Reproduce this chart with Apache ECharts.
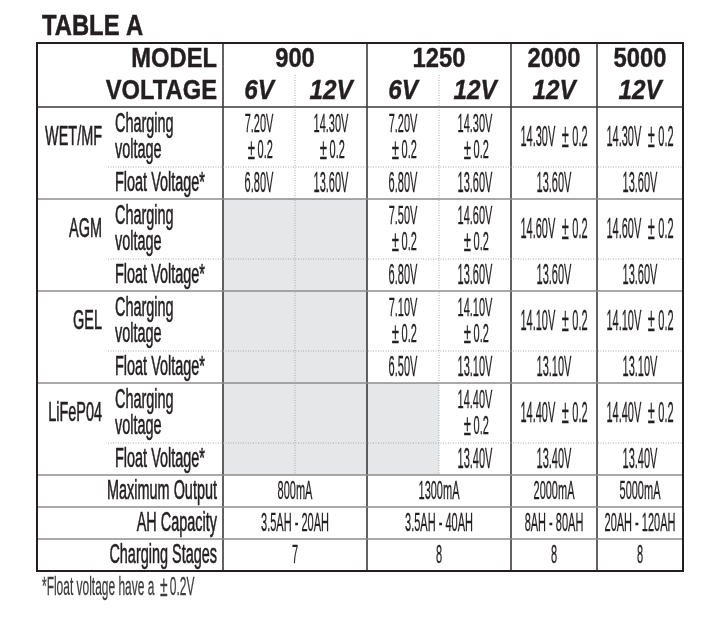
<!DOCTYPE html>
<html lang="en">
<head>
    <meta charset="UTF-8">
    <title>Table A</title>
    <script src="https://cdn.jsdelivr.net/npm/echarts@6.0.0/dist/echarts.min.js"></script>
    <style>
        html, body { margin: 0; padding: 0; background: #fff; }
    </style>
</head>
<body>
<div id="main" style="width: 717px; height: 629px;"></div>
<script>
  // table content
  var models = ['900', '1250', '2000', '5000'];
  var voltages = ['6V', '12V', '6V', '12V', '12V', '12V'];
  var batteryTypes = ['WET/MF', 'AGM', 'GEL', 'LiFeP04'];
  var rowLabels = ['Charging\nvoltage', 'Float Voltage*'];
  var tolerance = '0.2';
  // '' = not offered (grey cell)
  var chargingVoltage = [
    ['7.20V', '14.30V', '7.20V', '14.30V', '14.30V', '14.30V'],
    ['', '', '7.50V', '14.60V', '14.60V', '14.60V'],
    ['', '', '7.10V', '14.10V', '14.10V', '14.10V'],
    ['', '', '', '14.40V', '14.40V', '14.40V']
  ];
  var floatVoltage = [
    ['6.80V', '13.60V', '6.80V', '13.60V', '13.60V', '13.60V'],
    ['', '', '6.80V', '13.60V', '13.60V', '13.60V'],
    ['', '', '6.50V', '13.10V', '13.10V', '13.10V'],
    ['', '', '', '13.40V', '13.40V', '13.40V']
  ];
  var footerLabels = ['Maximum Output', 'AH Capacity', 'Charging Stages'];
  var maxOutput = ['800mA', '1300mA', '2000mA', '5000mA'];
  var ahCapacity = ['3.5AH - 20AH', '3.5AH - 40AH', '8AH - 80AH', '20AH - 120AH'];
  var chargingStages = ['7', '8', '8', '8'];

  // layout (axis units)
  var colWidths = [71, 115, 72, 72, 72, 72, 86, 86];
  var rowHeights = [32, 32, 60, 32, 60, 32, 60, 32, 60, 32, 32, 32, 32];
  var modelSpans = [[2, 4], [4, 6], [6, 7], [7, 8]];

  function edges(sizes) {
    var out = [0];
    for (var i = 0; i < sizes.length; i++) out.push(out[i] + sizes[i]);
    return out;
  }
  var colEdges = edges(colWidths);
  var rowEdges = edges(rowHeights);

  var ink = '#231f20';
  var family = '"Liberation Sans", Arial, sans-serif';
  var kinds = {
    head: {size: 27, weight: 'bold', style: 'normal', sx: 0.88, stroke: 0.4, pad: 6},
    volt: {size: 27, weight: 'bold', style: 'italic', sx: 0.9, stroke: 0.4, pad: 6},
    label: {size: 27, weight: 'normal', style: 'normal', sx: 0.535, stroke: 0.6, pad: 6},
    value: {size: 29, weight: 'normal', style: 'normal', sx: 0.38, stroke: 0.3, pad: 9},
    value2: {size: 25, weight: 'normal', style: 'normal', sx: 0.44, stroke: 0.3, pad: 6},
    foot: {size: 25, weight: 'normal', style: 'normal', sx: 0.44, stroke: 0.3, pad: 6}
  };

  // build cells from the arrays
  var texts = [];   // {c0,c1,r0,r1,text,kind,align,pad}
  var fills = [];   // [c0,c1,r0,r1]

  function addText(c0, c1, r0, r1, text, kind, align, pad) {
    texts.push({c0: c0, c1: c1, r0: r0, r1: r1, text: text, kind: kind, align: align || 'center', pad: pad || 0});
  }

  addText(0, 2, 0, 1, 'MODEL', 'head', 'right', 6);
  addText(0, 2, 1, 2, 'VOLTAGE', 'head', 'right', 6);
  models.forEach(function (m, i) {
    addText(modelSpans[i][0], modelSpans[i][1], 0, 1, m, 'head');
  });
  voltages.forEach(function (v, j) {
    addText(2 + j, 3 + j, 1, 2, v, 'volt');
  });

  batteryTypes.forEach(function (t, k) {
    var r = 2 + k * 2;
    addText(0, 1, r, r + 1, t, 'label', 'right', 6);
    addText(1, 2, r, r + 1, rowLabels[0], 'label', 'left', 7);
    addText(1, 2, r + 1, r + 2, rowLabels[1], 'label', 'left', 7);
    chargingVoltage[k].forEach(function (v, j) {
      if (!v) { fills.push([2 + j, 3 + j, r, r + 1]); return; }
      if (j < 4) addText(2 + j, 3 + j, r, r + 1, v + '\n{pm|±}' + tolerance, 'value2');
      else addText(2 + j, 3 + j, r, r + 1, v + ' {pm|±}' + tolerance, 'value');
    });
    floatVoltage[k].forEach(function (v, j) {
      if (!v) { fills.push([2 + j, 3 + j, r + 1, r + 2]); return; }
      addText(2 + j, 3 + j, r + 1, r + 2, v, 'value');
    });
  });

  [maxOutput, ahCapacity, chargingStages].forEach(function (list, k) {
    var r = 10 + k;
    addText(0, 2, r, r + 1, footerLabels[k], 'label', 'right', 6);
    list.forEach(function (v, i) {
      addText(modelSpans[i][0], modelSpans[i][1], r, r + 1, v, 'foot');
    });
  });

  // rules: [c0, r0, c1, r1, type]  0 dark, 1 grey, 2 dotted, 3 frame
  var rules = [];
  [2, 4, 6, 7].forEach(function (c) { rules.push([c, 0, c, 13, 0]); });
  rules.push([0, 2, 8, 2, 0]);
  [4, 6, 8, 10, 11, 12].forEach(function (r) { rules.push([0, r, 8, r, 1]); });
  [3, 5, 7, 9].forEach(function (r) { rules.push([1, r, 8, r, 2]); });
  [3, 5].forEach(function (c) { rules.push([c, 1, c, 10, 2]); });
  rules.push([0, 0, 8, 13, 3]);

  var ruleStyles = [
    {stroke: '#3a3a3a', lineWidth: 1.6},
    {stroke: '#8c8c8c', lineWidth: 1.4},
    {stroke: '#a8a8a8', lineWidth: 1, lineDash: [1, 1.5]},
    {stroke: ink, lineWidth: 2, fill: 'none'}
  ];

  var chart = echarts.init(document.getElementById('main'));

  function pt(api, c, r) {
    return api.coord([colEdges[c], rowEdges[r]]);
  }

  chart.setOption({
    animation: false,
    grid: {left: 37, top: 43, width: colEdges[8], height: rowEdges[13]},
    xAxis: {type: 'value', min: 0, max: colEdges[8], show: false},
    yAxis: {type: 'value', min: 0, max: rowEdges[13], inverse: true, show: false},
    graphic: [
      {
        type: 'text', x: 42, y: 27, scaleX: 0.82,
        style: {text: 'TABLE A', fontSize: 29, fontWeight: 'bold', fontFamily: family, fill: ink, stroke: ink, lineWidth: 0.5, align: 'left', verticalAlign: 'middle'}
      },
      {
        type: 'text', x: 42, y: 588, scaleX: 0.46,
        style: {
          text: '*Float voltage have a {pm|±}' + tolerance + 'V', fontSize: 26, fontFamily: family, fill: '#3c3c3c', stroke: '#3c3c3c', lineWidth: 0.3,
          align: 'left', verticalAlign: 'middle',
          rich: {pm: {fontSize: 30, fill: '#3c3c3c', padding: [0, 5, 0, 5], fontFamily: family}}
        }
      }
    ],
    series: [
      {
        type: 'custom',
        silent: true,
        z: 1,
        data: fills,
        renderItem: function (params, api) {
          var d = fills[params.dataIndex];
          var a = pt(api, d[0], d[2]), b = pt(api, d[1], d[3]);
          return {type: 'rect', shape: {x: a[0], y: a[1], width: b[0] - a[0], height: b[1] - a[1]}, style: {fill: '#e6e7e8'}};
        }
      },
      {
        type: 'custom',
        silent: true,
        z: 2,
        data: rules,
        renderItem: function (params, api) {
          var d = rules[params.dataIndex];
          var a = pt(api, d[0], d[1]), b = pt(api, d[2], d[3]);
          var st = ruleStyles[d[4]];
          if (d[4] === 3) {
            return {type: 'rect', shape: {x: a[0], y: a[1], width: b[0] - a[0], height: b[1] - a[1]}, style: st};
          }
          return {type: 'line', shape: {x1: a[0], y1: a[1], x2: b[0], y2: b[1]}, style: st};
        }
      },
      {
        type: 'custom',
        silent: true,
        z: 3,
        data: texts.map(function (t) { return [colEdges[t.c0], rowEdges[t.r0]]; }),
        renderItem: function (params, api) {
          var t = texts[params.dataIndex];
          var k = kinds[t.kind];
          var a = pt(api, t.c0, t.r0), b = pt(api, t.c1, t.r1);
          var x = t.align === 'left' ? a[0] + t.pad : t.align === 'right' ? b[0] - t.pad : (a[0] + b[0]) / 2;
          var y = (a[1] + b[1]) / 2 + 1;
          return {
            type: 'text',
            x: x, y: y, scaleX: k.sx,
            style: {
              text: t.text, x: 0, y: 0,
              fontSize: k.size, fontWeight: k.weight, fontStyle: k.style, fontFamily: family,
              fill: ink, stroke: ink, lineWidth: k.stroke,
              align: t.align, verticalAlign: 'middle', lineHeight: 26,
              rich: {pm: {fontSize: k.size + 5, fill: ink, stroke: ink, lineWidth: k.stroke, fontFamily: family, padding: [0, k.pad, 0, k.pad], lineHeight: 26}}
            }
          };
        }
      }
    ]
  });
</script>
</body>
</html>
